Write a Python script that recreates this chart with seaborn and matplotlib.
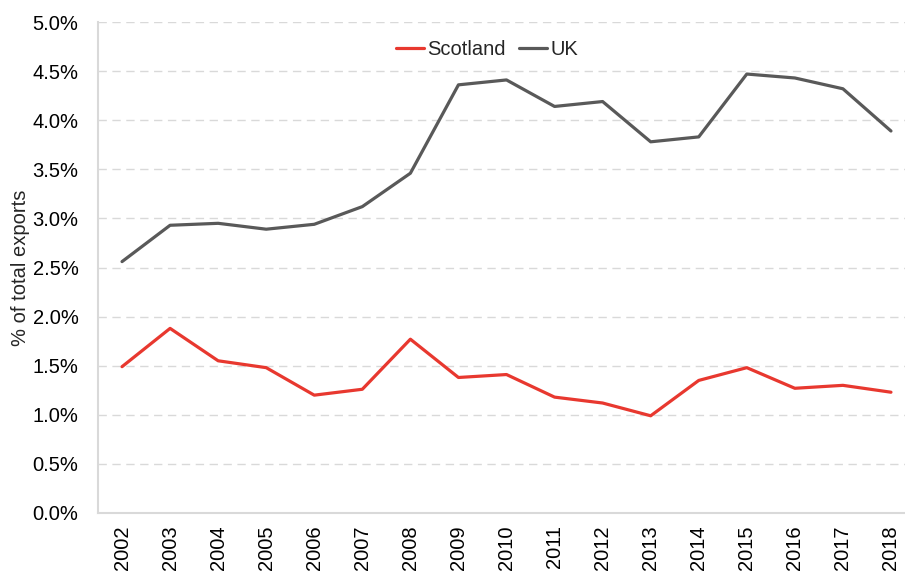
import seaborn as sns
import numpy as np
import pandas as pd
import matplotlib.pyplot as plt
from matplotlib.ticker import PercentFormatter

years = [2002, 2003, 2004, 2005, 2006, 2007, 2008, 2009, 2010,
         2011, 2012, 2013, 2014, 2015, 2016, 2017, 2018]
scotland = [1.49, 1.88, 1.55, 1.48, 1.20, 1.26, 1.77, 1.38, 1.41,
            1.18, 1.12, 0.99, 1.35, 1.48, 1.27, 1.30, 1.23]
uk = [2.56, 2.93, 2.95, 2.89, 2.94, 3.12, 3.46, 4.36, 4.41,
      4.14, 4.19, 3.78, 3.83, 4.47, 4.43, 4.32, 3.89]

df = pd.DataFrame({'year': years * 2,
                   'value': scotland + uk,
                   'series': ['Scotland'] * len(years) + ['UK'] * len(years)})

sns.set_style('white')
plt.rcParams['font.family'] = ['Liberation Sans', 'DejaVu Sans']

fig = plt.figure(figsize=(9.05, 5.74), dpi=100)
ax = fig.add_axes([98 / 905, 1 - 513 / 574, 817 / 905, 491 / 574])

sns.lineplot(data=df, x='year', y='value', hue='series',
             palette={'Scotland': '#E8382F', 'UK': '#595959'},
             linewidth=2.3, ax=ax)

ax.set_xlim(2001.5, 2018.5)
ax.set_ylim(0, 5.0)
ax.set_yticks(np.arange(0, 5.01, 0.5))
ax.yaxis.set_major_formatter(PercentFormatter(decimals=1))
ax.set_xticks(years)
ax.set_xticklabels([str(y) for y in years], rotation=90)
ax.tick_params(axis='both', labelsize=14.5, length=0, colors='#000000')
ax.tick_params(axis='x', pad=9)
ax.tick_params(axis='y', pad=14)

ax.grid(axis='y', color='#D9D9D9', linestyle=(0, (6, 4)), linewidth=1)
ax.set_axisbelow(True)
for s in ['top', 'right']:
    ax.spines[s].set_visible(False)
for s in ['left', 'bottom']:
    ax.spines[s].set_color('#D9D9D9')
    ax.spines[s].set_linewidth(1.5)

ax.set_xlabel('')
ax.set_ylabel('% of total exports', fontsize=14.5, labelpad=2)

leg = ax.legend(loc='upper center', bbox_to_anchor=((487 - 98) / 817, 1.0),
                ncol=2, frameon=False, fontsize=14.5, handlelength=1.4,
                handletextpad=0.15, columnspacing=0.65)

fig.savefig('out.png', dpi=100)
